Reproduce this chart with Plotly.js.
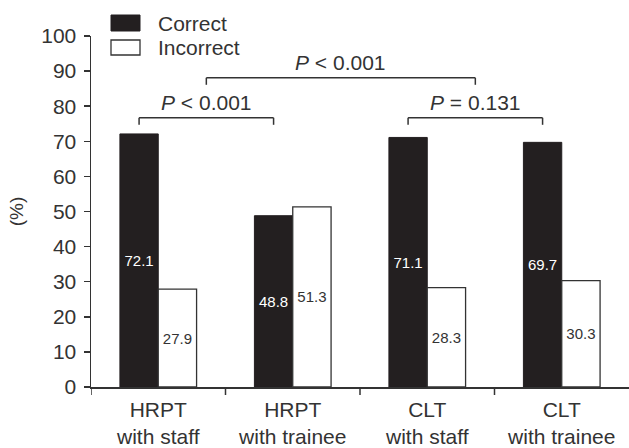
<!DOCTYPE html>
<html>
<head>
<meta charset="utf-8">
<script src="https://cdn.plot.ly/plotly-3.0.1.min.js"></script>
<style>
html,body{margin:0;padding:0;background:#fff;}
#chart{width:629px;height:448px;}
</style>
</head>
<body>
<div id="chart"></div>
<script>
// ---- data ----
var categories = ["HRPT<br>with staff", "HRPT<br>with trainee", "CLT<br>with staff", "CLT<br>with trainee"];
var correctValues = [72.1, 48.8, 71.1, 69.7];
var incorrectValues = [27.9, 51.3, 28.3, 30.3];
var seriesNames = ["Correct", "Incorrect"];
var yTicks = [0, 10, 20, 30, 40, 50, 60, 70, 80, 90, 100];
var pLabels = ["<i>P</i> < 0.001", "<i>P</i> < 0.001", "<i>P</i> = 0.131"];

// ---- layout helpers ----
var W = 629, H = 448;
var M = {l: 91, r: 0, t: 36, b: 61};
var pw = W - M.l - M.r, ph = H - M.t - M.b;
function px(x){ return (x - M.l) / pw; }
function py(y){ return (H - M.b - y) / ph; }

var FONT = "Liberation Sans, Arial, Helvetica, sans-serif";
var INK = "#333333";
var BLACK = "#231f20";
var bargap = 0.43;
var barW = (1 - bargap) / 2;
var off = -barW / 2; // centre of the Correct bar relative to category

var traces = [
  {
    type: "bar", name: seriesNames[0], x: [0,1,2,3], y: correctValues,
    marker: {color: BLACK, line: {color: BLACK, width: 1}},
    texttemplate: "%{y:.1f}", textposition: "inside", insidetextanchor: "middle",
    textfont: {family: FONT, size: 15, color: "#ffffff"},
    showlegend: false, hoverinfo: "skip"
  },
  {
    type: "bar", name: seriesNames[1], x: [0,1,2,3], y: incorrectValues,
    marker: {color: "#ffffff", line: {color: INK, width: 1.3}},
    texttemplate: "%{y:.1f}", textposition: "inside", insidetextanchor: "middle",
    textfont: {family: FONT, size: 15, color: INK},
    showlegend: false, hoverinfo: "skip"
  }
];

// significance brackets
var b1 = [0 + off, 1 + off];
var b3 = [2 + off, 3 + off];
var b2 = [(b1[0] + b1[1]) / 2, (b3[0] + b3[1]) / 2];
var brackets = [
  {x: b1, y: 76.7},
  {x: b2, y: 88.1},
  {x: b3, y: 76.7}
];
var shapes = [], annotations = [];
brackets.forEach(function(b, i){
  var ln = {color: INK, width: 1.5};
  shapes.push({type: "line", xref: "x", yref: "y", x0: b.x[0], x1: b.x[1], y0: b.y, y1: b.y, line: ln});
  shapes.push({type: "line", xref: "x", yref: "y", x0: b.x[0], x1: b.x[0], y0: b.y, y1: b.y - 2, line: ln});
  shapes.push({type: "line", xref: "x", yref: "y", x0: b.x[1], x1: b.x[1], y0: b.y, y1: b.y - 2, line: ln});
  annotations.push({
    xref: "x", yref: "y", x: (b.x[0] + b.x[1]) / 2, y: b.y,
    yanchor: "middle", xanchor: "center", yshift: 15,
    text: pLabels[i], showarrow: false,
    font: {family: FONT, size: 21, color: INK}
  });
});

// custom legend (large swatches)
shapes.push({type: "rect", xref: "paper", yref: "paper",
  x0: px(111), x1: px(140), y0: py(31), y1: py(15),
  fillcolor: BLACK, line: {color: BLACK, width: 1}});
shapes.push({type: "rect", xref: "paper", yref: "paper",
  x0: px(111), x1: px(140), y0: py(55), y1: py(40),
  fillcolor: "#ffffff", line: {color: INK, width: 1.3}});
annotations.push({xref: "paper", yref: "paper", x: px(156), y: py(23), xanchor: "left", yanchor: "middle",
  text: seriesNames[0], showarrow: false, font: {family: FONT, size: 21, color: INK}});
annotations.push({xref: "paper", yref: "paper", x: px(156), y: py(47.5), xanchor: "left", yanchor: "middle",
  text: seriesNames[1], showarrow: false, font: {family: FONT, size: 21, color: INK}});

var layout = {
  width: W, height: H,
  margin: M,
  paper_bgcolor: "#ffffff", plot_bgcolor: "#ffffff",
  font: {family: FONT, size: 21, color: INK},
  barmode: "group", bargap: bargap, bargroupgap: 0,
  showlegend: false,
  xaxis: {
    type: "linear", range: [-0.5, 3.5],
    tickmode: "array", tickvals: [0,1,2,3], ticktext: categories,
    ticks: "", showline: true, linecolor: INK, linewidth: 1.5,
    showgrid: false, zeroline: false, fixedrange: true,
    ticklabelstandoff: 3,
    tickfont: {family: FONT, size: 21, color: INK}
  },
  yaxis: {
    range: [0, 100], tickmode: "array", tickvals: yTicks,
    ticks: "outside", ticklen: 6, tickwidth: 1.5, tickcolor: INK,
    showline: true, linecolor: INK, linewidth: 1.5,
    showgrid: false, zeroline: false, fixedrange: true,
    ticklabelstandoff: 3,
    tickfont: {family: FONT, size: 21, color: INK},
    title: {text: "(%)", standoff: 12, font: {family: FONT, size: 19, color: INK}}
  },
  shapes: shapes,
  annotations: annotations
};

// x-axis boundary ticks at category boundaries
[ -0.5, 0.5, 1.5, 2.5 ].forEach(function(v){
  layout.shapes.push({type: "line", xref: "x", yref: "paper", x0: v, x1: v,
    y0: 0, y1: -8 / ph, line: {color: INK, width: 1.5}});
});

Plotly.newPlot("chart", traces, layout, {displayModeBar: false, staticPlot: true});
</script>
</body>
</html>
